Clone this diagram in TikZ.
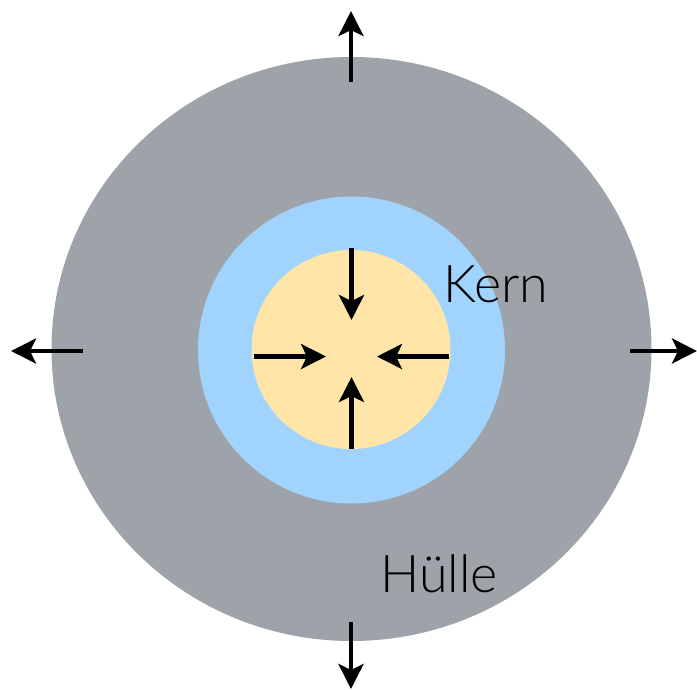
\documentclass[tikz,border=0pt]{standalone}
\usepackage{fontspec}
\setmainfont{Lato}[UprightFont={* Light}]
\usetikzlibrary{arrows.meta,shapes.geometric}
\definecolor{huelle}{RGB}{157,163,169}
\definecolor{kernblau}{RGB}{160,212,254}
\definecolor{kerngelb}{RGB}{255,229,168}
\tikzset{
  pfeil/.style={line width=4.5pt,-{Stealth[length=25pt,width=25pt,inset=6pt]}},
  lbl/.style={anchor=base west,inner sep=0pt,font=\fontsize{52pt}{60pt}\selectfont}
}
\begin{document}
\begin{tikzpicture}[x=1pt,y=-1pt]
\useasboundingbox (0,0) rectangle (697,689);
\node[ellipse,fill=huelle,draw=none,minimum width=600pt,minimum height=584pt,inner sep=0pt] (outer) at (351.5,349) {};
\node[circle,fill=kernblau,draw=none,minimum size=307pt,inner sep=0pt] (blue) at (351.5,350) {};
\node[circle,fill=kerngelb,draw=none,minimum size=199pt,inner sep=0pt] (core) at (351,349.5) {};
% outer arrows
\coordinate (t0) at (351,82); \coordinate (t1) at (351,11);
\coordinate (b0) at (351,622); \coordinate (b1) at (351,689);
\coordinate (l0) at (83,351); \coordinate (l1) at (11,351);
\coordinate (r0) at (630,351); \coordinate (r1) at (697,351);
\draw[pfeil] (t0) -- (t1);
\draw[pfeil] (b0) -- (b1);
\draw[pfeil] (l0) -- (l1);
\draw[pfeil] (r0) -- (r1);
% inner arrows
\coordinate (it0) at (351.5,248); \coordinate (it1) at (351.5,320);
\coordinate (ib0) at (351.5,449); \coordinate (ib1) at (351.5,377);
\coordinate (il0) at (254,356.5); \coordinate (il1) at (326,356.5);
\coordinate (ir0) at (449,356.5); \coordinate (ir1) at (377,356.5);
\draw[pfeil] (it0) -- (it1);
\draw[pfeil] (ib0) -- (ib1);
\draw[pfeil] (il0) -- (il1);
\draw[pfeil] (ir0) -- (ir1);
\node[lbl] (kern) at (443,302) {Kern};
\node[lbl] (huelletext) at (380,592) {Hülle};
\end{tikzpicture}
\end{document}
